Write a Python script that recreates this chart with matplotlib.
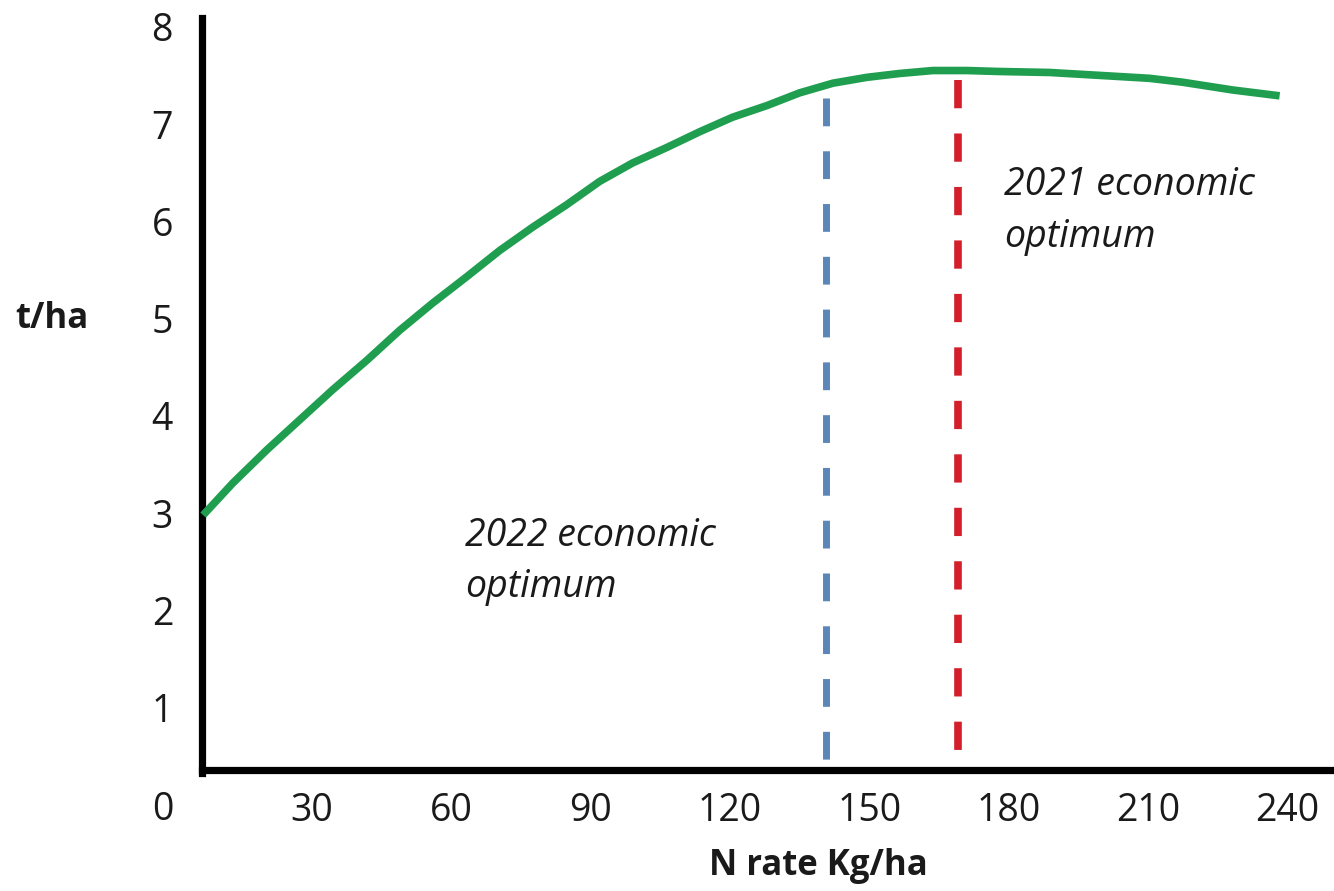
import numpy as np
import matplotlib
matplotlib.use("Agg")
import matplotlib.pyplot as plt

# yield response curve
n_rate = [6.7, 13.1, 20.4, 27.5, 34.6, 41.9, 49.0, 56.1, 63.4, 70.5, 77.6,
          84.9, 92.0, 99.1, 106.5, 113.5, 120.6, 128.0, 135.0, 142.2, 149.5,
          156.6, 163.7, 171.0, 178.1, 188.8, 199.6, 210.3, 217.4, 228.2, 238.3]
yield_t = [2.98, 3.31, 3.65, 3.96, 4.27, 4.57, 4.88, 5.16, 5.43, 5.70, 5.94,
           6.17, 6.41, 6.60, 6.76, 6.92, 7.07, 7.19, 7.32, 7.42, 7.48,
           7.52, 7.55, 7.55, 7.54, 7.53, 7.50, 7.47, 7.43, 7.35, 7.29]

# economic optimum markers (N rate, top of the dashed line)
opt_2022 = (140.6, 7.27)
opt_2021 = (169.0, 7.45)

x_ticks = [30, 60, 90, 120, 150, 180, 210, 240]
y_ticks = [0, 1, 2, 3, 4, 5, 6, 7, 8]

axis_x0 = 6.5   # where the drawn y axis sits
axis_y0 = 0.36  # where the drawn x axis sits

plt.rcParams['font.family'] = ['Open Sans', 'DejaVu Sans']
txt = '#1a1a1a'

fig = plt.figure(figsize=(13.34, 8.91), dpi=100)
ax = fig.add_axes([172 / 1334, 86 / 891, 1162 / 1334, 787 / 891])
ax.set_xlim(0, 250)
ax.set_ylim(0, 8.09)

ax.plot(n_rate, yield_t, color='#1f9e50', lw=5.5, solid_capstyle='butt',
        solid_joinstyle='round', zorder=3)

ax.plot([opt_2022[0], opt_2022[0]], [opt_2022[1], axis_y0], color='#5a86b8',
        lw=5, dashes=(4, 3.6), zorder=2)
ax.plot([opt_2021[0], opt_2021[0]], [opt_2021[1], axis_y0], color='#d21f2a',
        lw=5.5, dashes=(3.7, 3.3), zorder=2)

ax.text(63, 2.66, '2022 economic', fontsize=27, style='italic', color=txt)
ax.text(63, 2.14, 'optimum', fontsize=27, style='italic', color=txt)
ax.text(179, 6.27, '2021 economic', fontsize=27, style='italic', color=txt)
ax.text(179, 5.74, 'optimum', fontsize=27, style='italic', color=txt)

for s in ['top', 'right']:
    ax.spines[s].set_visible(False)
ax.spines['left'].set_position(('data', axis_x0))
ax.spines['bottom'].set_position(('data', axis_y0))
ax.spines['left'].set_bounds(axis_y0 - 0.03, 8.09)
ax.spines['bottom'].set_bounds(axis_x0, 250)
for s in ['left', 'bottom']:
    ax.spines[s].set_linewidth(5.2)
    ax.spines[s].set_color('black')
    ax.spines[s].set_capstyle('projecting')

ax.set_xticks(x_ticks)
ax.set_yticks(y_ticks)
ax.tick_params(axis='x', length=0, pad=16, labelsize=27, labelcolor=txt)
ax.tick_params(axis='y', length=0, pad=21, labelsize=27, labelcolor=txt)

ax.set_xlabel('N rate Kg/ha', fontsize=25, fontweight='bold', color=txt, va='center')
ax.xaxis.set_label_coords((818 - 172) / 1162, (891 - 866 - 86) / 787, transform=ax.transAxes)
ax.set_ylabel('t/ha', fontsize=25, fontweight='bold', color=txt, rotation=0,
              ha='center', va='center')
ax.yaxis.set_label_coords((52 - 172) / 1162, (891 - 319 - 86) / 787, transform=ax.transAxes)

fig.savefig('out.png', dpi=100)
